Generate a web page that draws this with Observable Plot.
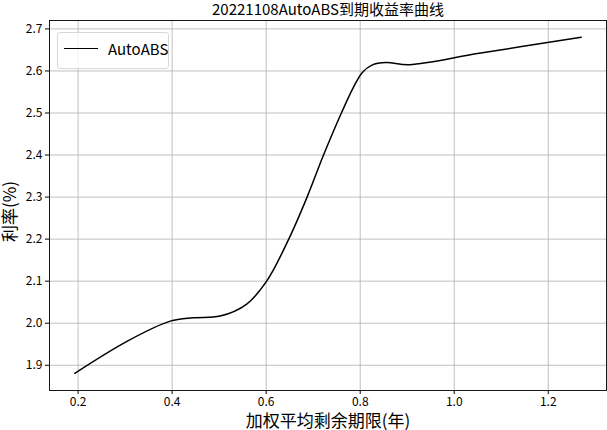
<!DOCTYPE html>
<html>
<head>
<meta charset="utf-8">
<script src="https://cdn.jsdelivr.net/npm/d3@7"></script>
<script src="https://cdn.jsdelivr.net/npm/@observablehq/plot@0.6"></script>
<style>
  html, body { margin: 0; padding: 0; background: #fff; }
  #wrap { position: relative; width: 607px; height: 430px; font-family: "Noto Sans CJK SC", sans-serif; }
  #legend { position: absolute; left: 57px; top: 32px; width: 112px; height: 37px;
            border: 1px solid #d8d8d8; border-radius: 3px; background: rgba(255,255,255,0.8); box-sizing: border-box; }
  #legend .sw { position: absolute; left: 6px; top: 15px; width: 34px; height: 0; border-top: 1.5px solid #000; }
  #legend .lb { position: absolute; left: 50px; top: 5px; font-size: 15px; line-height: 22px; color: #000; }
</style>
</head>
<body>
<div id="wrap"></div>
<script>
const title = "20221108AutoABS到期收益率曲线";
const xLabel = "加权平均剩余期限(年)";
const yLabel = "利率(%)";
const seriesName = "AutoABS";
const maturity = [0.193, 0.304, 0.396, 0.445, 0.502, 0.558, 0.601, 0.648, 0.687, 0.722, 0.760, 0.785, 0.805, 0.825, 0.855, 0.905, 1.053, 1.270];
const yieldPct = [1.881, 1.957, 2.005, 2.013, 2.017, 2.045, 2.100, 2.200, 2.300, 2.400, 2.500, 2.560, 2.597, 2.614, 2.620, 2.615, 2.642, 2.680];
const xTicks = [0.2, 0.4, 0.6, 0.8, 1.0, 1.2];
const yTicks = [1.9, 2.0, 2.1, 2.2, 2.3, 2.4, 2.5, 2.6, 2.7];

const data = maturity.map((x, i) => ({x, y: yieldPct[i]}));
const font = "Noto Sans CJK SC";

const chart = Plot.plot({
  width: 607,
  height: 430,
  marginLeft: 49,
  marginRight: 1,
  marginTop: 20,
  marginBottom: 40,
  style: {fontFamily: font, fontSize: "12px", color: "#000", background: "#fff", overflow: "visible"},
  x: {domain: [0.1392, 1.3238], ticks: xTicks, tickFormat: d => d.toFixed(1)},
  y: {domain: [1.84, 2.72], ticks: yTicks, tickFormat: d => d.toFixed(1)},
  marks: [
    Plot.gridX(xTicks, {stroke: "#b0b0b0", strokeOpacity: 1, strokeWidth: 0.8}),
    Plot.gridY(yTicks, {stroke: "#b0b0b0", strokeOpacity: 1, strokeWidth: 0.8}),
    Plot.axisX(xTicks, {tickSize: 4, tickPadding: 3, tickFormat: d => d.toFixed(1), label: null, fontSize: 12}),
    Plot.axisY(yTicks, {tickSize: 4, tickPadding: 3, tickFormat: d => d.toFixed(1), label: null, fontSize: 12}),
    Plot.line(data, {x: "x", y: "y", stroke: "#000", strokeWidth: 1.5, curve: "catmull-rom"}),
    Plot.frame({stroke: "#000", strokeWidth: 0.9}),
    Plot.text([title], {frameAnchor: "top", lineAnchor: "middle", dy: -10, text: d => d, fontSize: 15, fill: "#000"}),
    Plot.text([xLabel], {frameAnchor: "bottom", lineAnchor: "middle", dy: 31, text: d => d, fontSize: 17, fill: "#000"}),
    Plot.text([yLabel], {frameAnchor: "left", textAnchor: "middle", lineAnchor: "middle", dx: -39, dy: 6, rotate: -90, text: d => d, fontSize: 17, fill: "#000"})
  ]
});

const wrap = document.getElementById("wrap");
wrap.appendChild(chart);
const legend = document.createElement("div");
legend.id = "legend";
legend.innerHTML = `<div class="sw"></div><div class="lb">${seriesName}</div>`;
wrap.appendChild(legend);
</script>
</body>
</html>
